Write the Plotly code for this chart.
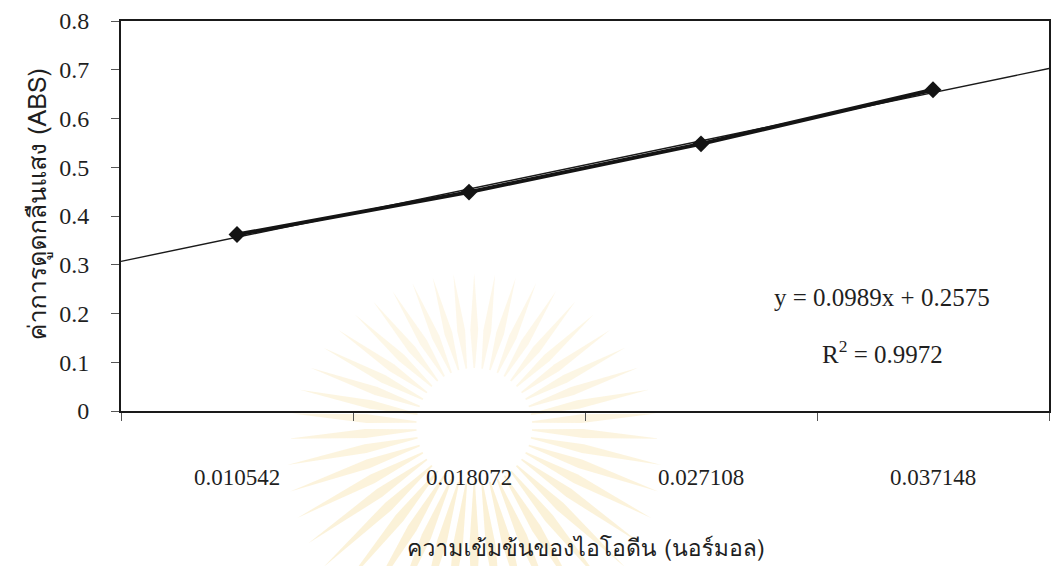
import math
import plotly.graph_objects as go

# Iodine concentration (normal) categories and measured absorbance
categories = ["0.010542", "0.018072", "0.027108", "0.037148"]
absorbance = [0.362, 0.449, 0.548, 0.659]

# Linear trendline reported on the chart (x = category index 1..4)
trend_slope = 0.0989
trend_intercept = 0.2575
r_squared = 0.9972

y_ticks = [0, 0.1, 0.2, 0.3, 0.4, 0.5, 0.6, 0.7, 0.8]

W, H = 1051, 566
L, R, T, B = 121, 0, 21, 155
PW, PH = W - L - R, H - T - B

idx = list(range(1, len(categories) + 1))
x_lo, x_hi = 0.5, len(categories) + 0.5

SERIF = "Liberation Serif, Times New Roman, serif"
THAI = "Loma, Garuda, Norasi, Liberation Serif, serif"
INK = "#1f1f1f"

fig = go.Figure()

# Trendline across the full category span
fig.add_trace(go.Scatter(
    x=[x_lo, x_hi],
    y=[trend_intercept + trend_slope * x_lo, trend_intercept + trend_slope * x_hi],
    mode="lines",
    line=dict(color="#1a1a1a", width=1.4),
    hoverinfo="skip",
    showlegend=False,
))

# Measured series
fig.add_trace(go.Scatter(
    x=idx,
    y=absorbance,
    mode="lines+markers",
    line=dict(color="#141414", width=4),
    marker=dict(symbol="diamond", size=13, color="#141414"),
    showlegend=False,
))


def px_to_paper(xp, yp):
    return (xp - L) / PW, (H - B - yp) / PH


# Faint sunburst emblem behind the chart
shapes = []
cx, cy = 475, 426
n_rays = 46
for k in range(n_rays):
    a = 2 * math.pi * (k + 0.5) / n_rays
    s = math.sin(a)  # positive = downward on screen
    r_in = 58
    r_out = 185 + 32 * s
    r_mid = r_in + 0.4 * (r_out - r_in)
    half_in = math.pi / n_rays * 0.2
    half_mid = math.pi / n_rays * 0.6
    seq = [
        (cx + r_in * math.cos(a - half_in), cy + r_in * math.sin(a - half_in)),
        (cx + r_mid * math.cos(a - half_mid), cy + r_mid * math.sin(a - half_mid)),
        (cx + r_out * math.cos(a), cy + r_out * math.sin(a)),
        (cx + r_mid * math.cos(a + half_mid), cy + r_mid * math.sin(a + half_mid)),
        (cx + r_in * math.cos(a + half_in), cy + r_in * math.sin(a + half_in)),
    ]
    path = ""
    for j, (xx, yy) in enumerate(seq):
        u, v = px_to_paper(xx, yy)
        path += ("M" if j == 0 else "L") + f"{u:.4f},{v:.4f} "
    path += "Z"
    alpha = 0.16 + 0.14 * (s + 1) / 2
    shapes.append(dict(
        type="path", path=path, xref="paper", yref="paper",
        fillcolor=f"rgba(242,208,118,{alpha:.3f})", line=dict(width=0), layer="below",
    ))

eq_x, eq_y = px_to_paper(884, 297)
r2_x, r2_y = px_to_paper(884, 352)
xt_x, xt_y = px_to_paper(587, 548)
yt_x, yt_y = px_to_paper(37, 204)

common = dict(xref="paper", yref="paper", showarrow=False,
              xanchor="center", yanchor="middle")
annotations = [
    dict(text=f"y = {trend_slope}x + {trend_intercept}", x=eq_x, y=eq_y,
         font=dict(family=SERIF, size=25, color=INK), **common),
    dict(text=f"R<sup>2</sup> = {r_squared}", x=r2_x, y=r2_y,
         font=dict(family=SERIF, size=25, color=INK), **common),
    dict(text="ความเข้มข้นของไอโอดีน (นอร์มอล)", x=xt_x, y=xt_y,
         font=dict(family=THAI, size=23, color=INK), **common),
    dict(text="ค่าการดูดกลืนแสง (ABS)", x=yt_x, y=yt_y, textangle=-90,
         font=dict(family=THAI, size=25, color=INK), **common),
]

fig.update_layout(
    width=W, height=H,
    margin=dict(l=L, r=R, t=T, b=B, pad=0),
    paper_bgcolor="white",
    plot_bgcolor="rgba(0,0,0,0)",
    shapes=shapes,
    annotations=annotations,
    xaxis=dict(
        range=[x_lo, x_hi],
        tickmode="array", tickvals=idx, ticktext=categories,
        ticks="", ticklabelstandoff=44,
        tickfont=dict(family=SERIF, size=23, color=INK),
        minor=dict(tickmode="array",
                   tickvals=[i + 0.5 for i in range(len(categories) + 1)],
                   ticks="outside", ticklen=8, tickcolor="#555", showgrid=False),
        showline=True, linecolor="#1a1a1a", linewidth=2, mirror=True,
        showgrid=False, zeroline=False, fixedrange=True,
    ),
    yaxis=dict(
        range=[0, 0.8],
        tickmode="array", tickvals=y_ticks,
        ticktext=[("0" if v == 0 else f"{v:.1f}") for v in y_ticks],
        ticks="outside", ticklen=8, tickcolor="#555", ticklabelstandoff=17,
        tickfont=dict(family=SERIF, size=24, color=INK),
        showline=True, linecolor="#1a1a1a", linewidth=2, mirror=True,
        showgrid=False, zeroline=False, fixedrange=True,
    ),
)

fig.write_html("out.html")
